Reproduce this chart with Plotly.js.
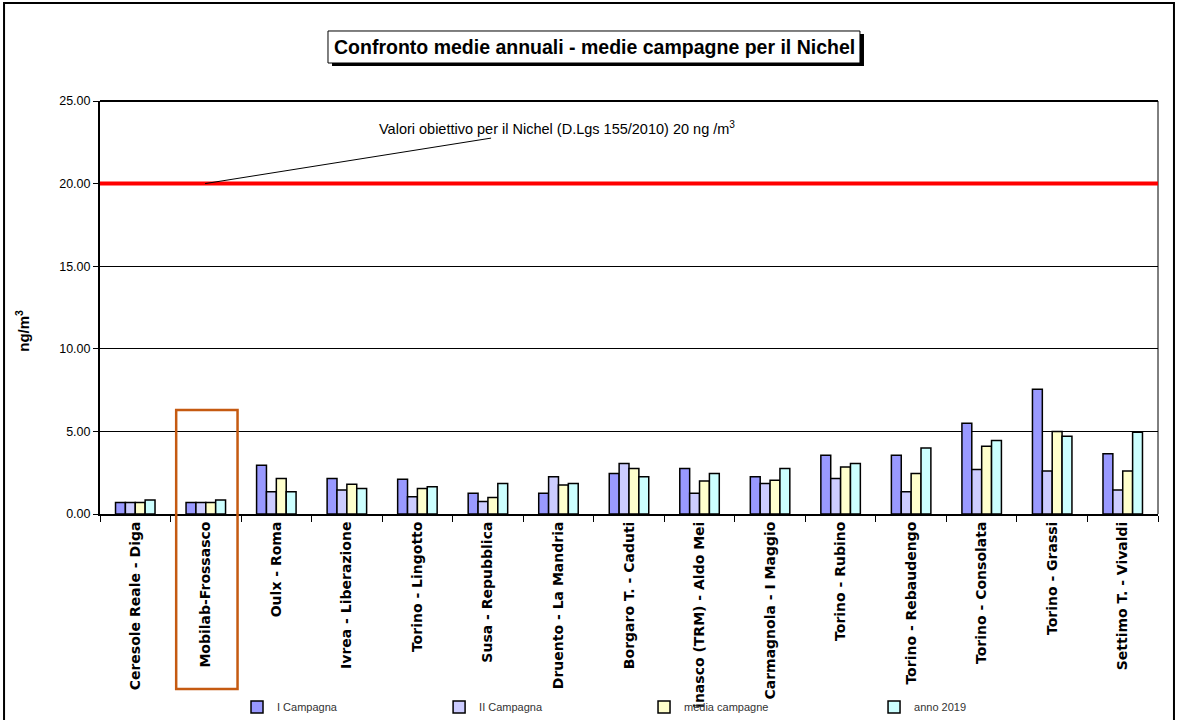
<!DOCTYPE html>
<html>
<head>
<meta charset="utf-8">
<script src="https://cdn.plot.ly/plotly-3.0.1.min.js"></script>
<style>html,body{margin:0;padding:0;background:#fff;}#chart{width:1180px;height:720px;}</style>
</head>
<body>
<div id="chart"></div>
<script>
// station labels as they appear in the reference (the long TRM label is cut off there)
const stations = [
  "Ceresole Reale - Diga", "Mobilab-Frossasco", "Oulx - Roma", "Ivrea - Liberazione",
  "Torino - Lingotto", "Susa - Repubblica", "Druento - La Mandria", "Borgaro T. - Caduti",
  "inasco (TRM) - Aldo Mei", "Carmagnola - I Maggio", "Torino - Rubino",
  "Torino - Rebaudengo", "Torino - Consolata", "Torino - Grassi", "Settimo T. - Vivaldi"
];
const seriesNames = ["I Campagna", "II Campagna", "media campagne", "anno 2019"];
const campagna1 = [0.7, 0.7, 2.95, 2.15, 2.1, 1.25, 1.25, 2.45, 2.75, 2.25, 3.55, 3.55, 5.5, 7.55, 3.65];
const campagna2 = [0.7, 0.7, 1.35, 1.45, 1.05, 0.75, 2.25, 3.05, 1.25, 1.85, 2.15, 1.35, 2.7, 2.6, 1.45];
const mediaCampagne = [0.7, 0.7, 2.15, 1.8, 1.55, 1.0, 1.75, 2.75, 2.0, 2.05, 2.85, 2.45, 4.1, 5.0, 2.6];
const anno2019 = [0.85, 0.85, 1.35, 1.55, 1.65, 1.85, 1.85, 2.25, 2.45, 2.75, 3.05, 4.0, 4.45, 4.7, 4.95];
const yTicks = [0, 5, 10, 15, 20, 25];
const targetValue = 20;
const highlightedStation = "Mobilab-Frossasco";

const colors = ["#9999FF", "#CCCCFF", "#FFFFCC", "#CCFFFF"];
const allSeries = [campagna1, campagna2, mediaCampagne, anno2019];
const legendIds = ["legend", "legend2", "legend3", "legend4"];
const legendX = [0.1295, 0.3205, 0.5142, 0.7316];

const traces = allSeries.map((vals, i) => ({
  type: "bar",
  name: seriesNames[i],
  x: stations,
  y: vals,
  legend: legendIds[i],
  marker: {color: colors[i], line: {color: "#000", width: 1.5}},
  hoverinfo: "x+y+name"
}));

const hiIdx = stations.indexOf(highlightedStation);

const layout = {
  width: 1180, height: 720,
  margin: {l: 100, r: 22, t: 101, b: 206, autoexpand: false},
  paper_bgcolor: "#fff", plot_bgcolor: "#fff",
  barmode: "group", bargap: 0.44, bargroupgap: 0,
  showlegend: true,
  xaxis: {
    type: "category",
    tickangle: -90,
    tickfont: {family: "DejaVu Sans", size: 14, color: "#000", weight: "bold"},
    ticks: "outside", ticklen: 6, tickwidth: 1, tickcolor: "#000",
    tickson: "boundaries",
    showline: true, linecolor: "#000", linewidth: 2,
    mirror: false, showgrid: false, zeroline: false,
    range: [-0.5, stations.length - 0.5]
  },
  yaxis: {
    range: [0, 25],
    tickvals: yTicks,
    tickformat: ".2f",
    tickfont: {family: "Liberation Sans", size: 12.5, color: "#000"},
    ticks: "outside", ticklen: 5, tickcolor: "#000",
    showline: true, linecolor: "#000", linewidth: 2,
    showgrid: true, gridcolor: "#000", gridwidth: 1,
    zeroline: false
  },
  shapes: [
    {type: "line", xref: "paper", yref: "paper", x0: 0, x1: 1, y0: 1, y1: 1, line: {color: "#000", width: 2}},
    {type: "line", xref: "paper", yref: "paper", x0: 1, x1: 1, y0: 0, y1: 1, line: {color: "#000", width: 1}},
    {type: "line", xref: "paper", yref: "y", x0: 0, x1: 1, y0: targetValue, y1: targetValue, line: {color: "#FF0000", width: 4}},
    {type: "rect", xref: "x", yref: "paper", x0: hiIdx - 0.42, x1: hiIdx + 0.45, y0: -0.424, y1: 0.252, line: {color: "#C55A11", width: 2.5}, fillcolor: "rgba(0,0,0,0)", layer: "above"},
    {type: "rect", xref: "paper", yref: "paper", x0: -0.0907, x1: 1.0151, y0: -0.56, y1: 1.2373, line: {color: "#000", width: 2}, fillcolor: "rgba(0,0,0,0)"},
    {type: "rect", xref: "paper", yref: "paper", x0: 0.2193, x1: 0.7221, y0: 1.0847, y1: 1.1622, line: {color: "#000", width: 0}, fillcolor: "#000"},
    {type: "rect", xref: "paper", yref: "paper", x0: 0.2155, x1: 0.7183, y0: 1.0920, y1: 1.1695, line: {color: "#000", width: 1}, fillcolor: "#fff"}
  ],
  annotations: [
    {
      xref: "paper", yref: "paper", x: 0.467, y: 1.131, xanchor: "center", yanchor: "middle",
      text: "Confronto medie annuali - medie campagne per il Nichel",
      showarrow: false,
      font: {family: "Liberation Sans Narrow, Liberation Sans", size: 19.5, color: "#000", weight: "bold"}
    },
    {
      xref: "x", yref: "y", x: 0.99, y: targetValue,
      ax: 352, ay: -56, axref: "pixel", ayref: "pixel",
      text: "Valori obiettivo per il Nichel (D.Lgs 155/2010) 20 ng /m<sup>3</sup>",
      showarrow: true, arrowhead: 0, arrowwidth: 1, arrowcolor: "#000", standoff: 0,
      font: {family: "Liberation Sans", size: 14.5, color: "#000"}
    },
    {
      xref: "paper", yref: "paper", x: -0.074, y: 0.443, xanchor: "center", yanchor: "middle",
      text: "ng/m<sup>3</sup>", textangle: -90, showarrow: false,
      font: {family: "Liberation Sans", size: 15, color: "#000", weight: "bold"}
    }
  ]
};

legendIds.forEach((id, i) => {
  layout[id] = {
    orientation: "h", x: legendX[i], xanchor: "left",
    yref: "container", y: 0.018, yanchor: "middle",
    font: {family: "Liberation Sans", size: 11, color: "#333"},
    bgcolor: "rgba(0,0,0,0)", borderwidth: 0, itemwidth: 30
  };
});

Plotly.newPlot("chart", traces, layout, {displayModeBar: false, responsive: false});
</script>
</body>
</html>
